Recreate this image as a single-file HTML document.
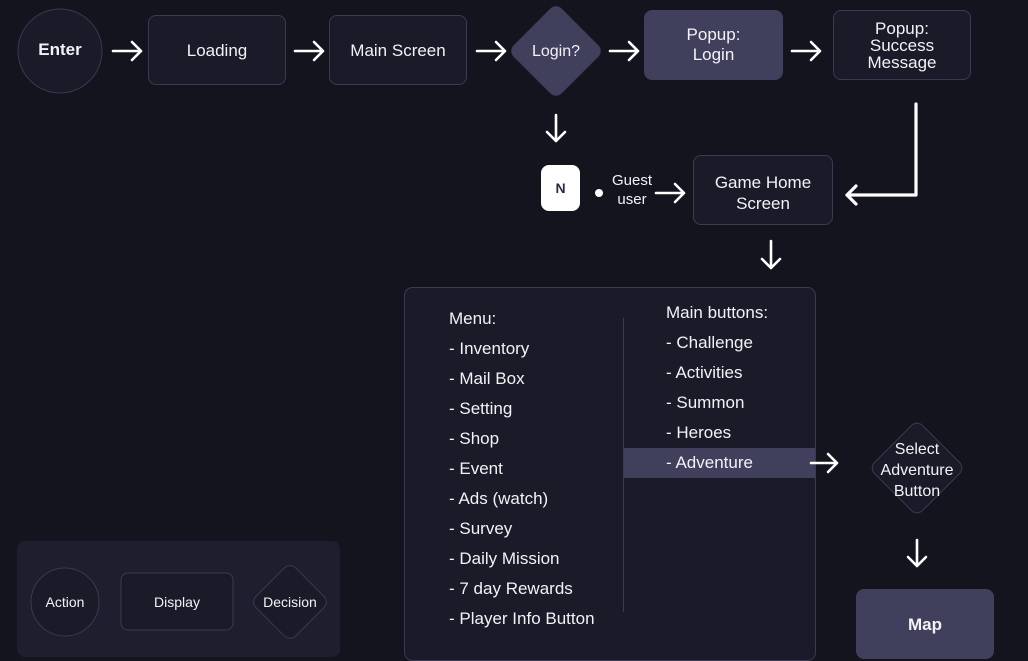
<!DOCTYPE html>
<html><head><meta charset="utf-8"><style>
body{margin:0;width:1028px;height:661px;background:#14141f;overflow:hidden;position:relative;font-family:"Liberation Sans",sans-serif;color:#f2f2f6}
.b{position:absolute;box-sizing:border-box;border:1px solid #3a3a52;background:#1a1a28;border-radius:8px;display:flex;align-items:center;justify-content:center;text-align:center;font-size:17px;line-height:17px}
.f{background:#403f5c;border-color:#403f5c}
.t{position:absolute;font-size:17px;white-space:nowrap}
svg{position:absolute;left:0;top:0}
</style></head><body>
<svg width="1028" height="661">
<g fill="#1a1a28" stroke="#3a3a52">
<circle cx="60" cy="51" r="42"/>
<rect x="17" y="541" width="323" height="116" rx="8" fill="#1e1e2e" stroke="none"/>
<circle cx="65" cy="602" r="34"/>
<rect x="121" y="573" width="112" height="57" rx="7"/>
<rect x="262" y="574" width="56" height="56" rx="8" transform="rotate(45 290 602)"/>
<rect x="883" y="434" width="68" height="68" rx="8" transform="rotate(45 917 468)"/>
<rect x="404.5" y="287.5" width="411" height="373" rx="8"/>
</g>
<rect x="522" y="17" width="68" height="68" rx="8" fill="#403f5c" transform="rotate(45 556 51)"/>
<rect x="624" y="448" width="191" height="30" fill="#403f5c"/>
<line x1="623.5" y1="318" x2="623.5" y2="612" stroke="#3a3a52"/>
<g stroke="#fff" stroke-width="2.6" fill="none" stroke-linecap="round" stroke-linejoin="round">
<path d="M113 51h28M132 42l9 9-9 9"/>
<path d="M295 51h28M314 42l9 9-9 9"/>
<path d="M477 51h28M496 42l9 9-9 9"/>
<path d="M610 51h28M629 42l9 9-9 9"/>
<path d="M792 51h28M811 42l9 9-9 9"/>
<path d="M556 115v26M547 132l9 9 9-9"/>
<path d="M656 193h28M675 184l9 9-9 9"/>
<path d="M916 104v91h-69M856 186l-9 9 9 9" stroke-width="3.2"/>
<path d="M771 241v27M762 259l9 9 9-9"/>
<path d="M811 463h26M828 454l9 9-9 9"/>
<path d="M917 540v26M908 557l9 9 9-9"/>
</g>
<circle cx="599" cy="193" r="4" fill="#fff"/>
</svg>
<div class="t" style="left:18px;top:40px;width:84px;text-align:center;font-weight:bold">Enter</div>
<div class="b" style="left:148px;top:15px;width:138px;height:70px">Loading</div>
<div class="b" style="left:329px;top:15px;width:138px;height:70px">Main Screen</div>
<div class="t" style="left:511px;top:43px;width:90px;text-align:center;font-size:16px">Login?</div>
<div class="b f" style="left:644px;top:10px;width:139px;height:70px;line-height:20px">Popup:<br>Login</div>
<div class="b" style="left:833px;top:10px;width:138px;height:70px;line-height:17px">Popup:<br>Success<br>Message</div>
<div class="b" style="left:541px;top:165px;width:39px;height:46px;background:#fff;border-color:#fff;color:#2a2a40;font-weight:bold;font-size:14px">N</div>
<div class="t" style="left:604px;top:171px;width:56px;text-align:center;font-size:15px;line-height:19px">Guest<br>user</div>
<div class="b" style="left:693px;top:155px;width:140px;height:70px;line-height:21px;padding-top:6px">Game Home<br>Screen</div>
<div class="t" style="left:449px;top:304px;line-height:30px">Menu:<br>- Inventory<br>- Mail Box<br>- Setting<br>- Shop<br>- Event<br>- Ads (watch)<br>- Survey<br>- Daily Mission<br>- 7 day Rewards<br>- Player Info Button</div>
<div class="t" style="left:666px;top:298px;line-height:30px">Main buttons:<br>- Challenge<br>- Activities<br>- Summon<br>- Heroes<br>- Adventure</div>
<div class="t" style="left:867px;top:439px;width:100px;text-align:center;font-size:16px;line-height:21px">Select<br>Adventure<br>Button</div>
<div class="b f" style="left:856px;top:589px;width:138px;height:70px;font-weight:bold">Map</div>
<div class="t" style="left:31px;top:594px;width:68px;text-align:center;font-size:14px">Action</div>
<div class="t" style="left:121px;top:594px;width:112px;text-align:center;font-size:14px">Display</div>
<div class="t" style="left:250px;top:594px;width:80px;text-align:center;font-size:14px">Decision</div>
</body></html>
